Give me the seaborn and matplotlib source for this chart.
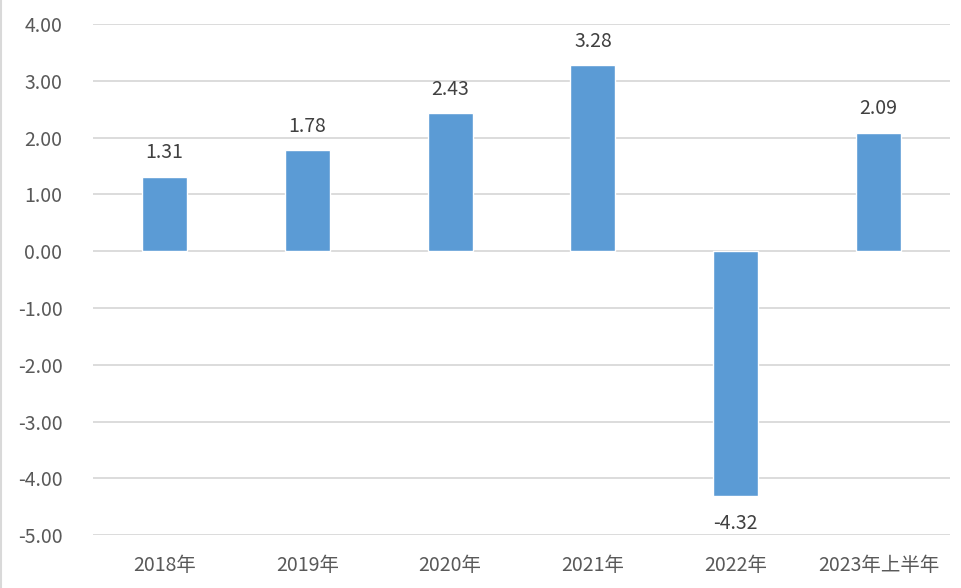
import matplotlib.pyplot as plt
import pandas as pd
import seaborn as sns
from matplotlib.lines import Line2D

# Data
categories = ["2018年", "2019年", "2020年", "2021年", "2022年", "2023年上半年"]
values = [1.31, 1.78, 2.43, 3.28, -4.32, 2.09]
y_ticks = [4, 3, 2, 1, 0, -1, -2, -3, -4, -5]

BAR_COLOR = "#5B9BD5"
GRID_COLOR = "#D9D9D9"
TEXT_COLOR = "#595959"

sns.set_theme(style="white")
plt.rcParams["font.family"] = ["Noto Sans CJK SC", "DejaVu Sans"]

df = pd.DataFrame({"category": categories, "value": values})

fig = plt.figure(figsize=(9.62, 5.88), dpi=100)
ax = fig.add_axes([0.0967, 0.090, 0.8908, 0.869])

# Gridlines first, bars on top
for t in y_ticks:
    ax.axhline(t, color=GRID_COLOR, linewidth=1.3, zorder=0)

sns.barplot(data=df, x="category", y="value", color=BAR_COLOR,
            width=0.315, saturation=1, ax=ax, zorder=2)

ax.set_ylim(-5, 4)
ax.set_xlim(-0.5, len(categories) - 0.5)
ax.set_yticks(y_ticks)
ax.set_yticklabels([f"{t:.2f}" for t in y_ticks])
ax.set_xlabel("")
ax.set_ylabel("")
ax.tick_params(axis="both", length=0, labelsize=14, colors=TEXT_COLOR)
ax.tick_params(axis="y", pad=22)
ax.tick_params(axis="x", pad=14)
for spine in ax.spines.values():
    spine.set_visible(False)

# Value labels
for i, v in enumerate(values):
    offset = 0.42 if v >= 0 else -0.48
    ax.text(i, v + offset, f"{v:.2f}", ha="center", va="center",
            fontsize=14, color="#404040")

# thin border on the left edge of the image
fig.add_artist(Line2D([0.001, 0.001], [0, 1], color=GRID_COLOR,
                      linewidth=1.5, transform=fig.transFigure))

plt.savefig("out.png", dpi=100)
